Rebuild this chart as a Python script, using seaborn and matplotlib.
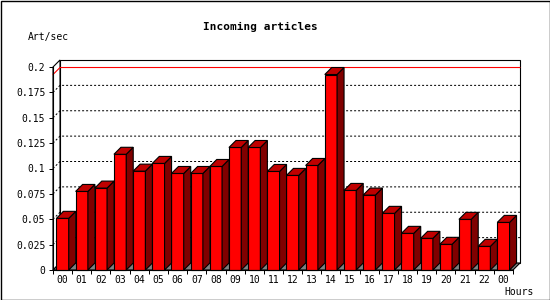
import numpy as np
import pandas as pd
import matplotlib
matplotlib.use("Agg")
import matplotlib.pyplot as plt
import seaborn as sns
from matplotlib.patches import Polygon, Rectangle

# ---- data ----
hours = ["00", "01", "02", "03", "04", "05", "06", "07", "08", "09", "10", "11",
         "12", "13", "14", "15", "16", "17", "18", "19", "20", "21", "22", "00"]
rate = [0.0509, 0.0774, 0.0807, 0.1140, 0.0974, 0.1050, 0.0951, 0.0951,
        0.1020, 0.1207, 0.1207, 0.0971, 0.0932, 0.1030, 0.1926, 0.0784,
        0.0738, 0.0558, 0.0361, 0.0312, 0.0253, 0.0499, 0.0233, 0.0469]
y_ticks = [0, 0.025, 0.05, 0.075, 0.1, 0.125, 0.15, 0.175, 0.2]
y_tick_labels = ["0", "0.025", "0.05", "0.075", "0.1", "0.125", "0.15", "0.175", "0.2"]
title = "Incoming articles"
y_title = "Art/sec"
x_title = "Hours"

sns.set_theme(style="white")
plt.rcParams['font.family'] = ['DejaVu Sans Mono']

W, H = 550, 300
AX_L, AX_B, AX_W, AX_H = 53, 30, 460, 203
DEPTH = 7  # px

fig = plt.figure(figsize=(W / 100, H / 100), dpi=100)
fig.patch.set_facecolor("white")
ax = fig.add_axes([AX_L / W, AX_B / H, AX_W / W, AX_H / H])
ax.set_facecolor("none")

df = pd.DataFrame({"slot": np.arange(len(rate)), "rate": rate})
sns.barplot(data=df, x="slot", y="rate", color="#ff0000", saturation=1,
            width=0.64, edgecolor="black", linewidth=0.8, ax=ax, zorder=3)

x_lo, x_hi = -0.5, len(rate) - 0.5
y_lo, y_hi = y_ticks[0], y_ticks[-1]
ax.set_xlim(x_lo, x_hi)
ax.set_ylim(y_lo, y_hi)
dx = DEPTH * (x_hi - x_lo) / AX_W
dy = DEPTH * (y_hi - y_lo) / AX_H

edge = dict(edgecolor="black", linewidth=0.8, clip_on=False)

# back wall, left wall, floor
ax.add_patch(Polygon([(x_lo + dx, y_lo + dy), (x_lo + dx, y_hi + dy),
                      (x_hi + dx, y_hi + dy), (x_hi + dx, y_lo + dy)],
                     facecolor="white", zorder=0.5, **edge))
ax.add_patch(Polygon([(x_lo, y_lo), (x_lo + dx, y_lo + dy),
                      (x_lo + dx, y_hi + dy), (x_lo, y_hi)],
                     facecolor="white", zorder=0.6, **edge))
ax.add_patch(Polygon([(x_lo, y_lo), (x_lo + dx, y_lo + dy),
                      (x_hi + dx, y_lo + dy), (x_hi, y_lo)],
                     facecolor="#808080", zorder=0.7, **edge))

# dotted grid on back wall
for g in y_ticks[1:-1]:
    ax.plot([x_lo, x_lo + dx, x_hi + dx], [g, g + dy, g + dy], color="black",
            linewidth=0.72, linestyle=(0, (2, 2)), clip_on=False, zorder=0.8)

# max line
vmax = max(rate)
ax.plot([x_lo, x_lo + dx, x_hi + dx], [vmax, vmax + dy, vmax + dy],
        color="#ff0000", linewidth=0.8, clip_on=False, zorder=0.9)

# 3D faces of bars
for p in list(ax.patches):
    if p.get_facecolor()[:3] != (1.0, 0.0, 0.0):
        continue
    x0, w, h = p.get_x(), p.get_width(), p.get_height()
    p.set_clip_on(False)
    ax.add_patch(Polygon([(x0 + w, 0), (x0 + w + dx, dy), (x0 + w + dx, h + dy), (x0 + w, h)],
                         facecolor="#800000", zorder=3, **edge))
    ax.add_patch(Polygon([(x0, h), (x0 + dx, h + dy), (x0 + w + dx, h + dy), (x0 + w, h)],
                         facecolor="#c00000", zorder=3, **edge))

# axes styling
for s in ["top", "right"]:
    ax.spines[s].set_visible(False)
for s in ["left", "bottom"]:
    ax.spines[s].set_color("black")
    ax.spines[s].set_linewidth(0.8)
    ax.spines[s].set_zorder(4)

ax.set_xlabel("")
ax.set_ylabel("")
ax.set_yticks(y_ticks, y_tick_labels)
ax.set_xticks(np.arange(len(hours)), hours)
ax.set_xticks(np.arange(x_lo, x_hi + 0.01, 1), minor=True)
ax.tick_params(axis="y", left=True, length=3, width=0.72, pad=2.5,
               labelsize=7, colors="black", direction="out")
ax.tick_params(axis="x", which="major", bottom=True, length=0, pad=3.4,
               labelsize=7, colors="black")
ax.tick_params(axis="x", which="minor", bottom=True, length=3, width=0.72,
               color="black", direction="out")

fig.text(260 / W, 1 - 26.7 / H, title, ha="center", va="center",
         fontsize=8, fontweight="bold", color="black")
fig.text(28 / W, 1 - 36.7 / H, y_title, ha="left", va="center",
         fontsize=7, color="black")
fig.text(504 / W, 1 - 292 / H, x_title, ha="left", va="center",
         fontsize=7, color="black")

fig.patches.append(Rectangle((0.5 / W, 0.5 / H), (W - 1) / W, (H - 1) / H,
                             transform=fig.transFigure, fill=False,
                             edgecolor="black", linewidth=1.0))

fig.savefig("out.png", dpi=100)
